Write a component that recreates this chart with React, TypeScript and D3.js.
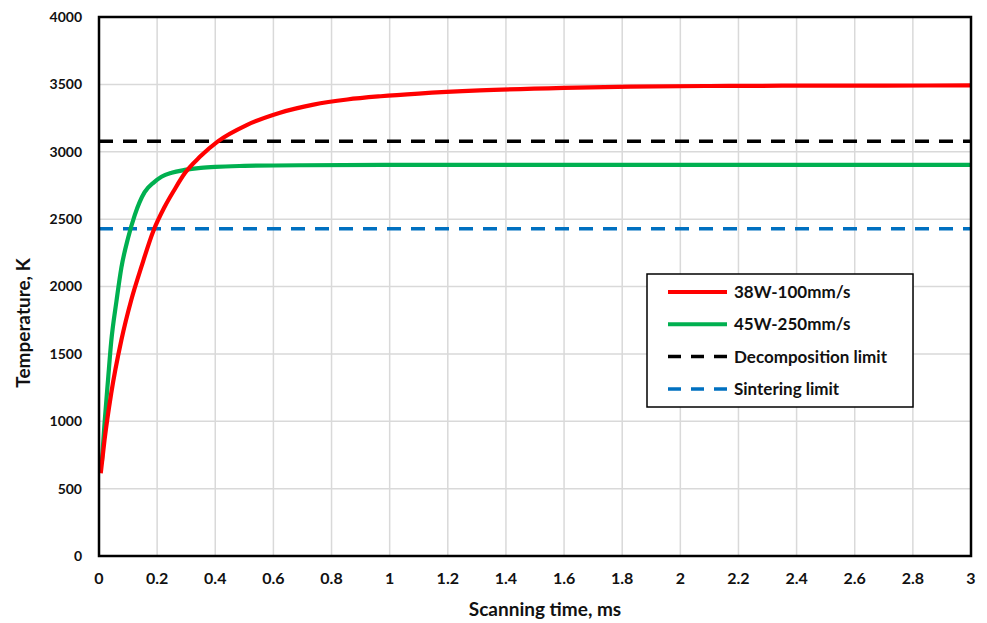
import * as d3 from "d3";

const redTime = [0.006, 0.019, 0.042, 0.077, 0.111, 0.146, 0.186, 0.226, 0.26, 0.295, 0.347, 0.409, 0.508, 0.623, 0.738, 0.854, 0.969, 1.1, 1.31, 1.6, 1.83, 2.1, 2.35, 2.7, 3.0];
const redTemp = [614, 861, 1207, 1603, 1900, 2147, 2407, 2592, 2720, 2840, 2962, 3077, 3198, 3290, 3350, 3388, 3412, 3432, 3455, 3474, 3483, 3488, 3490, 3491, 3492];

const greenTime = [0.01, 0.019, 0.031, 0.042, 0.06, 0.077, 0.1, 0.123, 0.157, 0.19, 0.215, 0.25, 0.295, 0.35, 0.4, 0.5, 0.7, 1.0, 3.0];
const greenTemp = [700, 985, 1306, 1590, 1890, 2140, 2360, 2530, 2700, 2775, 2815, 2845, 2865, 2880, 2888, 2895, 2900, 2902, 2902];

const decompositionLimit = 3077;
const sinteringLimit = 2428;

const xTicks = [0, 0.2, 0.4, 0.6, 0.8, 1, 1.2, 1.4, 1.6, 1.8, 2, 2.2, 2.4, 2.6, 2.8, 3];
const yTicks = [0, 500, 1000, 1500, 2000, 2500, 3000, 3500, 4000];

const legendLabels = ["38W-100mm/s", "45W-250mm/s", "Decomposition limit", "Sintering limit"];
const legendColors = ["#ff0000", "#00b050", "#000000", "#0070c0"];

const FONT = "Lato, 'Open Sans', sans-serif";

export default function App() {
  const width = 987;
  const height = 623;
  const margin = { top: 17, right: 16, bottom: 67, left: 99 };

  const x = d3.scaleLinear().domain([0, 3]).range([margin.left, width - margin.right]);
  const y = d3.scaleLinear().domain([0, 4000]).range([height - margin.bottom, margin.top]);

  const line = d3
    .line<[number, number]>()
    .x((d) => x(d[0]))
    .y((d) => y(d[1]))
    .curve(d3.curveMonotoneX);

  const redPts = redTime.map((t, i) => [t, redTemp[i]] as [number, number]);
  const greenPts = greenTime.map((t, i) => [t, greenTemp[i]] as [number, number]);

  const [x0, x1] = x.range();
  const [y0, y1] = y.range();

  // legend box
  const lg = { x: 647, y: 274, w: 266, h: 133 };
  const rowY = (i: number) => lg.y + 18 + i * 32.3;

  return (
    <svg width={width} height={height} style={{ position: "absolute", left: 0, top: 0, background: "#fff" }}>
      {/* grid */}
      {xTicks.map((t) => (
        <line key={"gx" + t} x1={x(t)} x2={x(t)} y1={y1} y2={y0} stroke="#d9d9d9" strokeWidth={1.5} />
      ))}
      {yTicks.map((t) => (
        <line key={"gy" + t} x1={x0} x2={x1} y1={y(t)} y2={y(t)} stroke="#d9d9d9" strokeWidth={1.5} />
      ))}

      {/* limits */}
      <line x1={x0} x2={x1} y1={y(decompositionLimit)} y2={y(decompositionLimit)} stroke="#000" strokeWidth={3.5} strokeDasharray="14,10" />
      <line x1={x0} x2={x1} y1={y(sinteringLimit)} y2={y(sinteringLimit)} stroke="#0070c0" strokeWidth={3.5} strokeDasharray="14,10" />

      {/* curves */}
      <path d={line(greenPts) || ""} fill="none" stroke="#00b050" strokeWidth={4.2} />
      <path d={line(redPts) || ""} fill="none" stroke="#ff0000" strokeWidth={4.2} />

      {/* frame */}
      <rect x={x0} y={y1} width={x1 - x0} height={y0 - y1} fill="none" stroke="#000" strokeWidth={2.5} />

      {/* tick labels */}
      {xTicks.map((t) => (
        <text key={"tx" + t} x={x(t)} y={584} textAnchor="middle" fontFamily={FONT} fontWeight="bold" fontSize={16} fill="#111">
          {d3.format("~g")(t)}
        </text>
      ))}
      {yTicks.map((t) => (
        <text key={"ty" + t} x={82} y={y(t)} dy="0.35em" textAnchor="end" fontFamily={FONT} fontWeight="bold" fontSize={14} fill="#111">
          {t}
        </text>
      ))}

      {/* axis titles */}
      <text x={545} y={616} textAnchor="middle" fontFamily={FONT} fontWeight="bold" fontSize={19} fill="#111">
        Scanning time, ms
      </text>
      <text transform="translate(30,323) rotate(-90)" textAnchor="middle" fontFamily={FONT} fontWeight="bold" fontSize={19} fill="#111">
        Temperature, K
      </text>

      {/* legend */}
      <rect x={lg.x} y={lg.y} width={lg.w} height={lg.h} fill="#fff" stroke="#000" strokeWidth={1.5} />
      {legendLabels.map((label, i) => (
        <g key={label}>
          <line
            x1={668}
            x2={727}
            y1={rowY(i)}
            y2={rowY(i)}
            stroke={legendColors[i]}
            strokeWidth={i < 2 ? 4 : 3.5}
            strokeDasharray={i < 2 ? undefined : "13,10"}
          />
          <text x={734} y={rowY(i)} dy="0.35em" fontFamily={FONT} fontWeight="bold" fontSize={17} fill="#111">
            {label}
          </text>
        </g>
      ))}
    </svg>
  );
}
